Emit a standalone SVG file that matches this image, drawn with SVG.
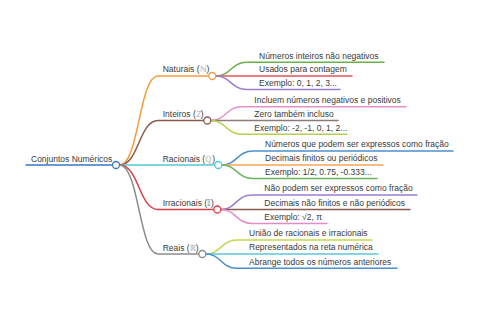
<svg xmlns="http://www.w3.org/2000/svg" width="480" height="320" viewBox="0 0 480 320">
<style>
text{font-family:"Liberation Sans",Arial,sans-serif;font-size:8.5px;fill:#3a3a3a}
.s{fill:#aaa}
.d{fill:#777}
path{fill:none;stroke-width:1.5;stroke-linecap:round}
circle{fill:#fff;stroke-width:1.3}
</style>
<rect width="480" height="320" fill="#fff"/>
<g id="connectors">
<path d="M26 165H112.5" stroke="#3a78c3" stroke-width="2"/>
<path d="M119.5 165C139 165 139 76 158 76H208.8" stroke="#f39c3c"/>
<path d="M119.5 165C139 165 139 120.5 158 120.5H203.8" stroke="#8b5a4e"/>
<path d="M119.5 165H214.8" stroke="#56c6dc"/>
<path d="M119.5 165C139 165 139 209.5 158 209.5H213.8" stroke="#d9414a"/>
<path d="M119.5 165C139 165 139 254 158 254H198.8" stroke="#8c8c8c"/>
<path d="M215.8 76C231 76 231 62.3 247 62.3H384" stroke="#6ab04c"/>
<path d="M215.8 76H352" stroke="#e0555b"/>
<path d="M215.8 76C231 76 231 89.5 247 89.5H340" stroke="#9a7fd1"/>
<path d="M210.8 120.5C226 120.5 226 106.7 242 106.7H406" stroke="#e392c8"/>
<path d="M210.8 120.5H338" stroke="#8c7b77"/>
<path d="M210.8 120.5C226 120.5 226 134.3 242 134.3H347" stroke="#b5cf4a"/>
<path d="M221.8 165C237 165 237 151 253 151H453" stroke="#4a90d0"/>
<path d="M221.8 165H383" stroke="#f5a55a"/>
<path d="M221.8 165C237 165 237 178.5 253 178.5H377" stroke="#6ab35a"/>
<path d="M220.8 209.5C236 209.5 236 195 252 195H417" stroke="#9a7fd1"/>
<path d="M220.8 209.5H410" stroke="#8b5a4e"/>
<path d="M220.8 209.5C236 209.5 236 223.5 252 223.5H327" stroke="#e58cc8"/>
<path d="M205.8 254C221 254 221 240 237 240H372" stroke="#c4d84f"/>
<path d="M205.8 254H378" stroke="#5bc8d8"/>
<path d="M205.8 254C221 254 221 268.3 237 268.3H397" stroke="#4a8fd0"/>
</g>
<g id="root"><text x="31" y="161.5">Conjuntos Numéricos</text><circle cx="116" cy="165" r="3.5" stroke="#3a78c3"/></g>
<g id="naturais"><text x="162.7" y="72.3">Naturais (<tspan class="s">ℕ</tspan>)</text><circle cx="212.3" cy="76" r="3.5" stroke="#f39c3c"/></g>
<g id="inteiros"><text x="162.7" y="116.8">Inteiros (<tspan class="s">ℤ</tspan>)</text><circle cx="207.3" cy="120.5" r="3.5" stroke="#8b5a4e"/></g>
<g id="racionais"><text x="162.7" y="161.5">Racionais (<tspan class="s">ℚ</tspan>)</text><circle cx="218.3" cy="165" r="3.5" stroke="#56c6dc"/></g>
<g id="irracionais"><text x="162.7" y="206">Irracionais (<tspan class="d">𝕀</tspan>)</text><circle cx="217.3" cy="209.5" r="3.5" stroke="#d9414a"/></g>
<g id="reais"><text x="162.7" y="250.5">Reais (<tspan class="s">ℝ</tspan>)</text><circle cx="202.3" cy="254" r="3.5" stroke="#8c8c8c"/></g>
<g id="n1"><text x="259" y="58.5">Números inteiros não negativos</text></g>
<g id="n2"><text x="259" y="72.2">Usados para contagem</text></g>
<g id="n3"><text x="259" y="85.7">Exemplo: 0, 1, 2, 3...</text></g>
<g id="z1"><text x="254.3" y="102.9">Incluem números negativos e positivos</text></g>
<g id="z2"><text x="254.3" y="116.7">Zero também incluso</text></g>
<g id="z3"><text x="254.3" y="130.5">Exemplo: -2, -1, 0, 1, 2...</text></g>
<g id="q1"><text x="265" y="147.2">Números que podem ser expressos como fração</text></g>
<g id="q2"><text x="265" y="161.2">Decimais finitos ou periódicos</text></g>
<g id="q3"><text x="265" y="174.7">Exemplo: 1/2, 0.75, -0.333...</text></g>
<g id="i1"><text x="264.3" y="191.2">Não podem ser expressos como fração</text></g>
<g id="i2"><text x="264.3" y="205.7">Decimais não finitos e não periódicos</text></g>
<g id="i3"><text x="264.3" y="219.7">Exemplo: √2, π</text></g>
<g id="r1"><text x="249" y="236.2">União de racionais e irracionais</text></g>
<g id="r2"><text x="249" y="250.2">Representados na reta numérica</text></g>
<g id="r3"><text x="249" y="264.5">Abrange todos os números anteriores</text></g>
</svg>
